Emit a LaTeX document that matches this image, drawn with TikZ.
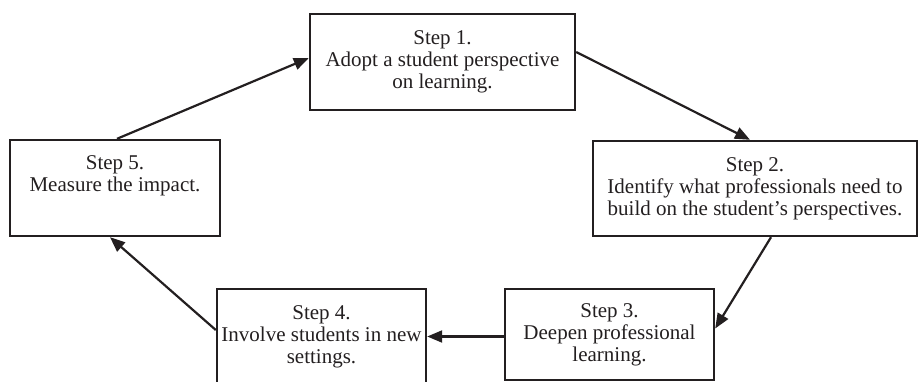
\documentclass[tikz,border=0pt]{standalone}
\usepackage{fontspec}
\setmainfont{Liberation Serif}
\usetikzlibrary{arrows.meta}
\definecolor{ink}{HTML}{231F20}
\begin{document}
\begin{tikzpicture}[x=1pt,y=-1pt,
  stepbox/.style={draw=ink, line width=2.4pt, rectangle, align=center, text=ink,
    inner sep=0pt, font=\fontsize{21}{22}\selectfont},
  conn/.style={draw=ink, line width=2.2pt, -{Triangle[length=15pt,width=12pt]}}]
\useasboundingbox (0,0) rectangle (920,382);
\node[stepbox, minimum width=265pt, minimum height=96pt] (b1) at (442.5,62)
  {Step 1.\\Adopt a student perspective\\on learning.};
\node[stepbox, minimum width=324pt, minimum height=95pt] (b2) at (755,188.5)
  {Step 2.\\Identify what professionals need to\\build on the student’s perspectives.};
\node[stepbox, minimum width=209pt, minimum height=91pt] (b3) at (609.5,334.5)
  {Step 3.\\Deepen professional\\learning.};
\node[stepbox, minimum width=209pt, minimum height=95pt] (b4) at (321.5,336.5)
  {Step 4.\\Involve students in new\\settings.};
\node[stepbox, minimum width=210pt, minimum height=96pt] (b5) at (115,188)
  {Step 5.\\Measure the impact.\\\strut};
\draw[conn] ([xshift=2pt]b5.north) -- ([yshift=4pt]b1.west);
\draw[conn] ([yshift=10pt]b1.east) -- ([xshift=-5pt]b2.north);
\draw[conn] ([xshift=16pt]b2.south) -- ([yshift=6pt]b3.east);
\draw[conn] ([yshift=-2pt]b3.west) -- ([yshift=-2pt]b3.west -| b4.east);
\draw[conn] ([yshift=6.5pt]b4.west) -- ([xshift=-5pt]b5.south);
\end{tikzpicture}
\end{document}
